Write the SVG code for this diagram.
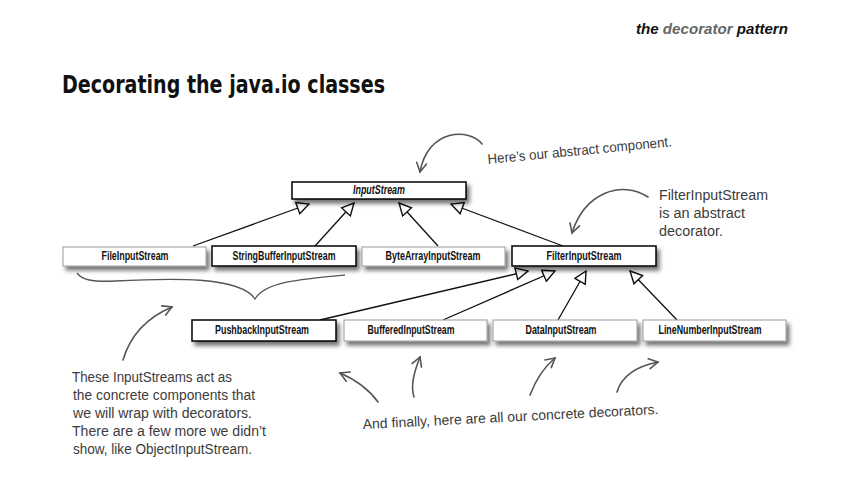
<svg xmlns="http://www.w3.org/2000/svg" width="858" height="504" viewBox="0 0 858 504">
<style>
.box{fill:#fff;}
.bk{stroke:#000;stroke-width:1.5;}
.gr{stroke:#9a9a9a;stroke-width:1;}
.lbl{font-family:"Liberation Sans",Arial,sans-serif;font-weight:bold;font-size:12px;fill:#111;text-anchor:middle;}
.gen{fill:none;stroke:#111;stroke-width:1.3;}
.hand{font-family:"Liberation Sans",Arial,sans-serif;font-size:14px;fill:#3c3c3c;}
.sk{fill:none;stroke:#555;stroke-width:1.6;stroke-linecap:round;}
</style>
<defs>
<filter id="sh" x="-10%" y="-30%" width="125%" height="190%">
<feDropShadow dx="3" dy="4" stdDeviation="2" flood-color="#000" flood-opacity="0.55"/>
</filter>
<marker id="tri" viewBox="0 0 14 14" refX="13" refY="7" markerWidth="14" markerHeight="14" markerUnits="userSpaceOnUse" orient="auto">
<path d="M1,1 L13,7 L1,13 Z" fill="#fff" stroke="#111" stroke-width="1.4"/>
</marker>
<marker id="open" viewBox="0 0 12 12" refX="10" refY="6" markerWidth="12" markerHeight="12" markerUnits="userSpaceOnUse" orient="auto">
<path d="M1,1 L10,6 L1,11" fill="none" stroke="#555" stroke-width="1.6" stroke-linecap="round"/>
</marker>
</defs>
<rect width="858" height="504" fill="#fff"/>

<text x="636" y="34" font-family="'Liberation Sans',Arial,sans-serif" font-size="14" font-weight="bold" font-style="italic" fill="#111" textLength="152" lengthAdjust="spacingAndGlyphs">the <tspan fill="#666">decorator</tspan> pattern</text>

<text x="62" y="93" font-family="'DejaVu Sans Condensed','DejaVu Sans',sans-serif" font-size="25" font-weight="bold" fill="#111" textLength="323" lengthAdjust="spacingAndGlyphs">Decorating the java.io classes</text>

<g id="connectors">
<line class="gen" x1="193" y1="246" x2="309" y2="204" marker-end="url(#tri)"/>
<line class="gen" x1="315" y1="246" x2="354" y2="203" marker-end="url(#tri)"/>
<line class="gen" x1="438" y1="246" x2="399" y2="203" marker-end="url(#tri)"/>
<line class="gen" x1="563" y1="246" x2="451" y2="204" marker-end="url(#tri)"/>
<line class="gen" x1="320" y1="320" x2="528" y2="271" marker-end="url(#tri)"/>
<line class="gen" x1="443" y1="320" x2="555" y2="271" marker-end="url(#tri)"/>
<line class="gen" x1="558" y1="320" x2="586" y2="271" marker-end="url(#tri)"/>
<line class="gen" x1="677" y1="320" x2="630" y2="271" marker-end="url(#tri)"/>
</g>

<g id="InputStream">
<rect class="box bk" x="292" y="182" width="174" height="17" filter="url(#sh)"/>
<text class="lbl" x="379" y="194" font-style="italic" textLength="52" lengthAdjust="spacingAndGlyphs">InputStream</text>
</g>
<g id="FileInputStream">
<rect class="box gr" x="63" y="247" width="143" height="19" filter="url(#sh)"/>
<text class="lbl" x="135" y="260" textLength="67" lengthAdjust="spacingAndGlyphs">FileInputStream</text>
</g>
<g id="StringBufferInputStream">
<rect class="box bk" x="212" y="246" width="144" height="20" filter="url(#sh)"/>
<text class="lbl" x="284" y="260" textLength="103" lengthAdjust="spacingAndGlyphs">StringBufferInputStream</text>
</g>
<g id="ByteArrayInputStream">
<rect class="box gr" x="362" y="247" width="143" height="19" filter="url(#sh)"/>
<text class="lbl" x="433" y="260" textLength="95" lengthAdjust="spacingAndGlyphs">ByteArrayInputStream</text>
</g>
<g id="FilterInputStream">
<rect class="box bk" x="512" y="246" width="144" height="20" filter="url(#sh)"/>
<text class="lbl" x="584" y="260" textLength="75" lengthAdjust="spacingAndGlyphs">FilterInputStream</text>
</g>
<g id="PushbackInputStream">
<rect class="box bk" x="192" y="320" width="144" height="21" filter="url(#sh)"/>
<text class="lbl" x="262" y="334" textLength="94" lengthAdjust="spacingAndGlyphs">PushbackInputStream</text>
</g>
<g id="BufferedInputStream">
<rect class="box gr" x="344" y="320" width="143" height="21" filter="url(#sh)"/>
<text class="lbl" x="411" y="334" textLength="87" lengthAdjust="spacingAndGlyphs">BufferedInputStream</text>
</g>
<g id="DataInputStream">
<rect class="box gr" x="493" y="320" width="144" height="21" filter="url(#sh)"/>
<text class="lbl" x="561" y="334" textLength="71" lengthAdjust="spacingAndGlyphs">DataInputStream</text>
</g>
<g id="LineNumberInputStream">
<rect class="box gr" x="643" y="320" width="143" height="21" filter="url(#sh)"/>
<text class="lbl" x="710" y="334" textLength="103" lengthAdjust="spacingAndGlyphs">LineNumberInputStream</text>
</g>

<g id="annotations">
<path class="sk" d="M482,144 C470,128 428,128 420,172" marker-end="url(#open)"/>
<text class="hand" x="488" y="164" transform="rotate(-5.5 488 164)" textLength="185" lengthAdjust="spacingAndGlyphs">Here’s our abstract component.</text>

<path class="sk" d="M648,197 C622,180 585,192 572,233" marker-end="url(#open)"/>
<text class="hand" x="659" y="200" textLength="109" lengthAdjust="spacingAndGlyphs">FilterInputStream</text>
<text class="hand" x="659" y="218" textLength="86" lengthAdjust="spacingAndGlyphs">is an abstract</text>
<text class="hand" x="659" y="236" textLength="64" lengthAdjust="spacingAndGlyphs">decorator.</text>

<path d="M77,273 C82,280 92,282 115,281 C170,278 240,276 255,299 C265,282 300,279 345,275" fill="none" stroke="#555" stroke-width="1.3"/>

<path class="sk" d="M123,360 C130,336 146,318 172,307" marker-end="url(#open)"/>
<text class="hand" x="72" y="382" textLength="160" lengthAdjust="spacingAndGlyphs">These InputStreams act as</text>
<text class="hand" x="73" y="400" textLength="182" lengthAdjust="spacingAndGlyphs">the concrete components that</text>
<text class="hand" x="73" y="418" textLength="179" lengthAdjust="spacingAndGlyphs">we will wrap with decorators.</text>
<text class="hand" x="72" y="436" textLength="194" lengthAdjust="spacingAndGlyphs">There are a few more we didn’t</text>
<text class="hand" x="73" y="454" textLength="179" lengthAdjust="spacingAndGlyphs">show, like ObjectInputStream.</text>

<path class="sk" d="M378,402 C368,388 356,380 340,373" marker-end="url(#open)"/>
<path class="sk" d="M414,397 C410,385 415,370 420,357" marker-end="url(#open)"/>
<path class="sk" d="M530,395 C535,382 543,368 555,358" marker-end="url(#open)"/>
<path class="sk" d="M617,392 C622,375 638,366 658,362" marker-end="url(#open)"/>
<text class="hand" x="363" y="429" transform="rotate(-2.9 363 429)" textLength="296" lengthAdjust="spacingAndGlyphs">And finally, here are all our concrete decorators.</text>
</g>
</svg>
